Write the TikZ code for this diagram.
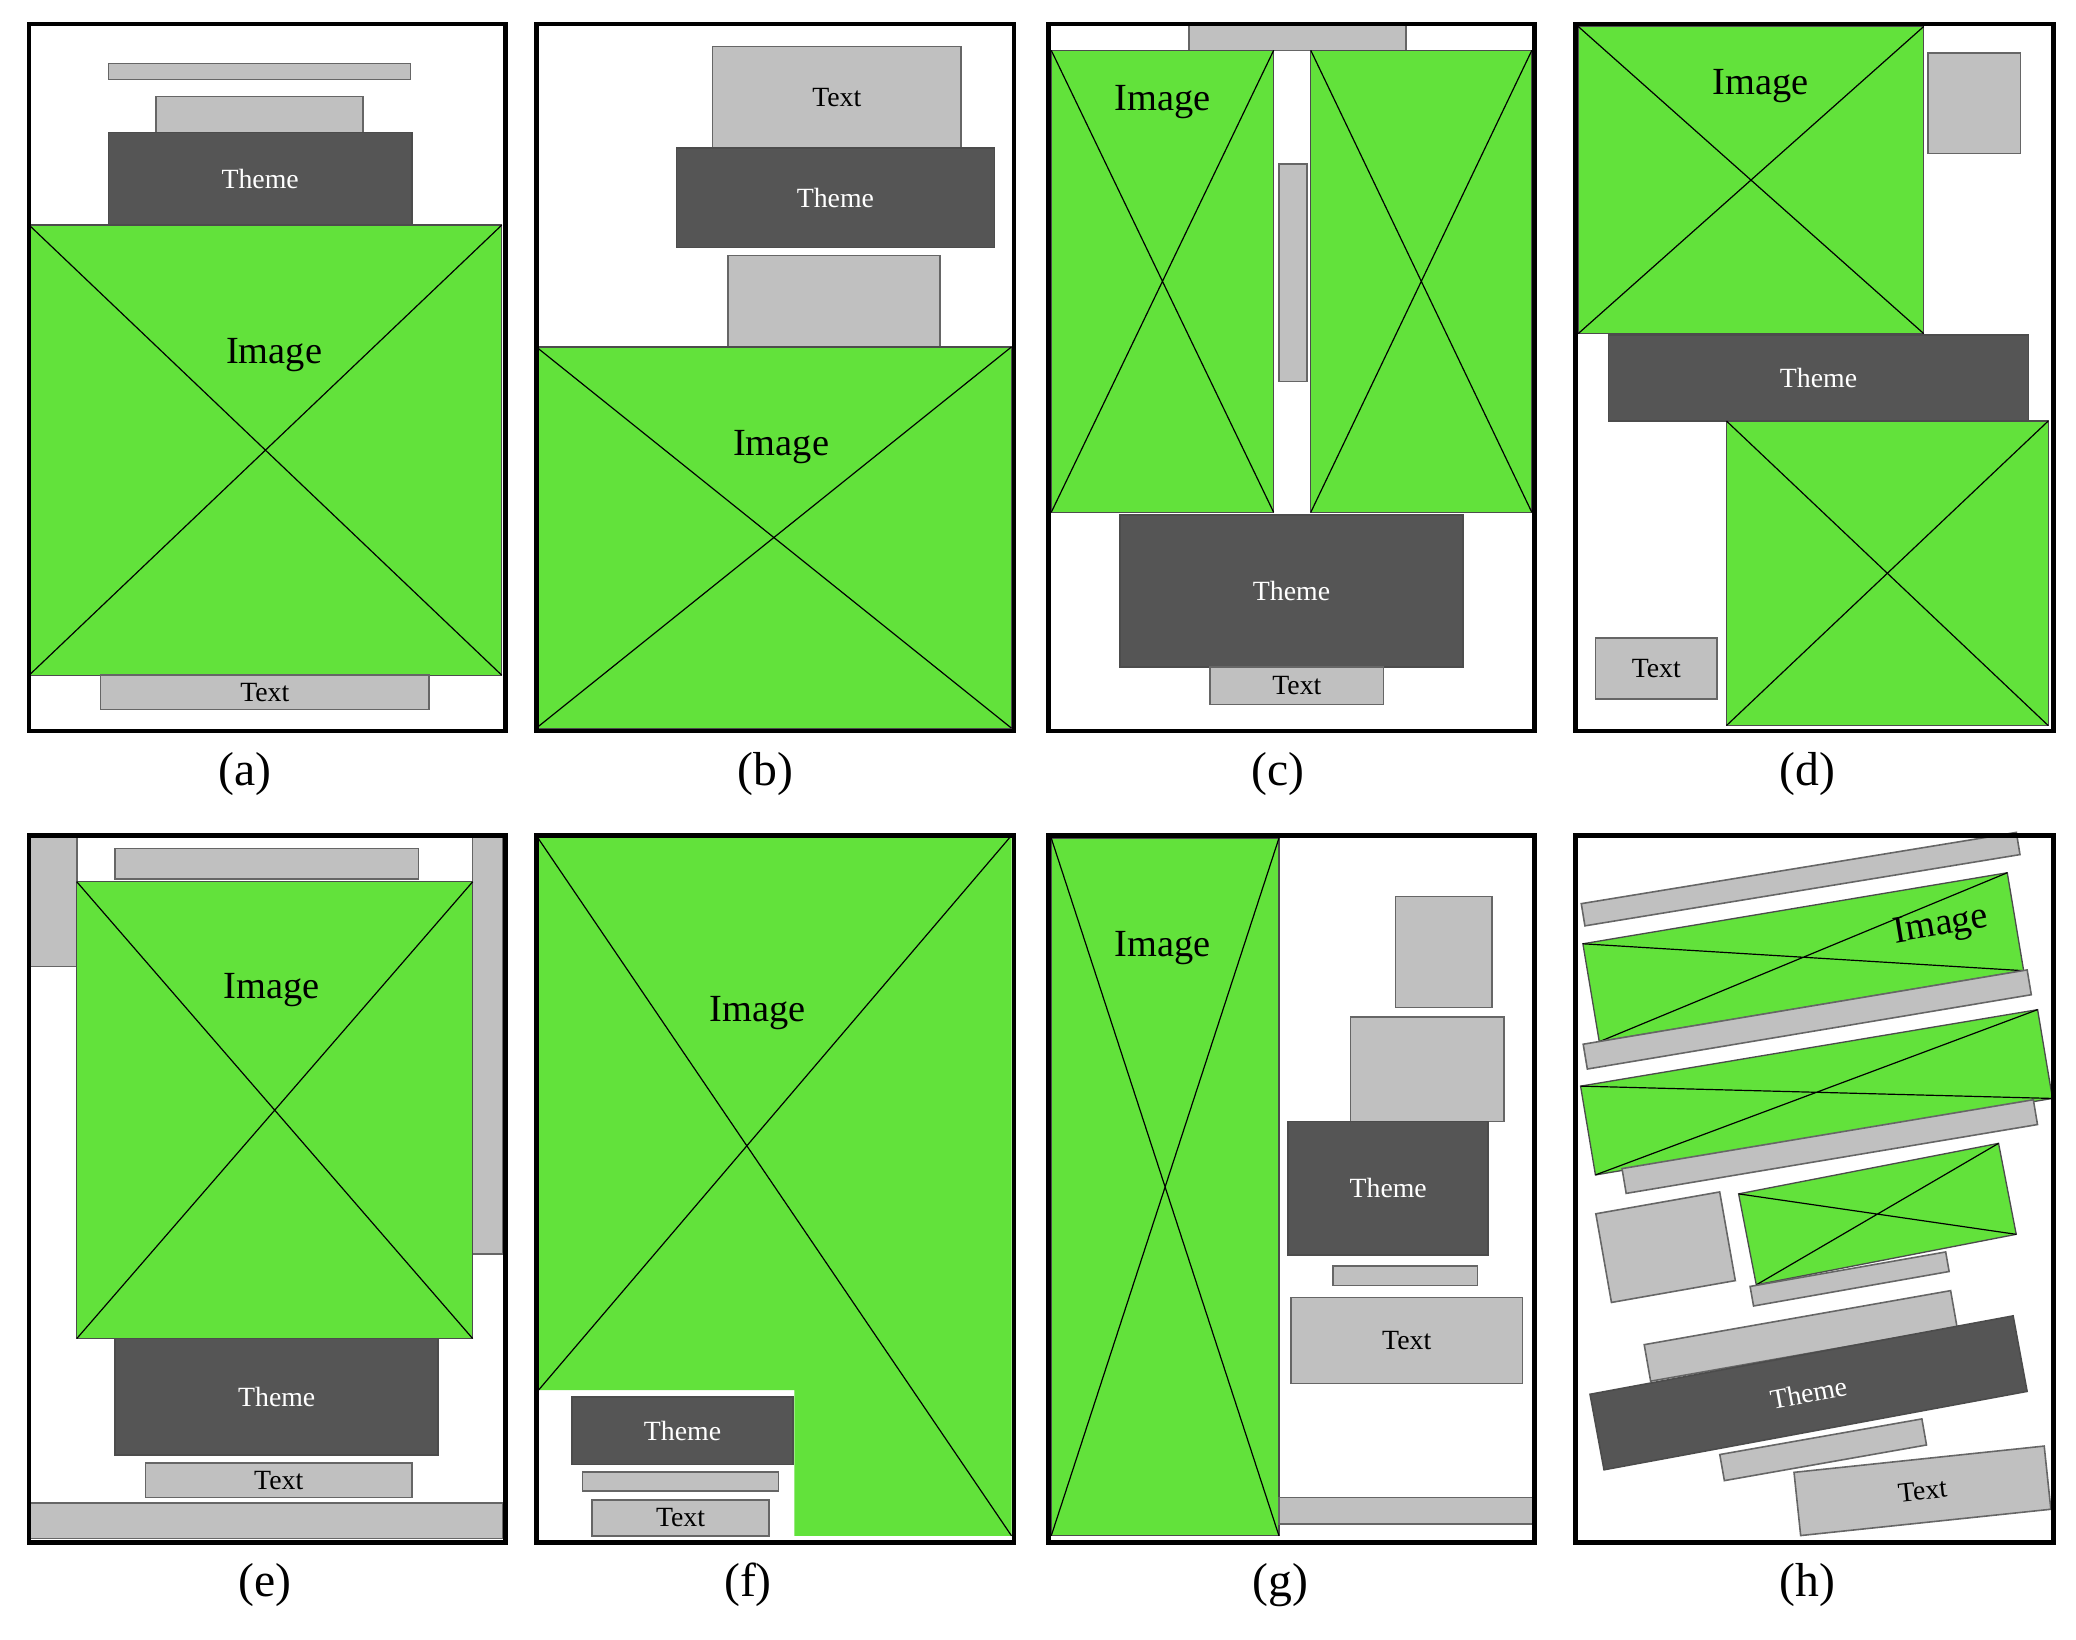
\documentclass[tikz,border=0pt]{standalone}
\usepackage{fontspec}
\setmainfont{Liberation Serif}
\begin{document}
\begin{tikzpicture}[x=1pt,y=-1pt,
 frame/.style={draw=black,line width=3.5pt},
 img/.style={fill=imgG,draw=black!70,line width=1pt,inner sep=0,outer sep=0},
 gbox/.style={fill=boxG,draw=black!60,line width=1.2pt,inner sep=0,outer sep=0,font=\fontsize{21}{21}\selectfont},
 dbox/.style={fill=boxD,draw=black!70,line width=1.2pt,inner sep=0,outer sep=0,text=white,font=\fontsize{21}{21}\selectfont},
 lab/.style={font=\fontsize{36}{36}\selectfont},
 itxt/.style={font=\fontsize{29}{29}\selectfont},
 xl/.style={draw=black,line width=0.9pt}]
\definecolor{imgG}{HTML}{62E23B}
\definecolor{boxG}{HTML}{C0C0C0}
\definecolor{boxD}{HTML}{555555}
\newcommand\rb[7]{\node[#1,minimum width={#4-#2},minimum height={#5-#3}] (#6) at ({(#2+#4)/2},{(#3+#5)/2}) {#7};}
\newcommand\cx[1]{\draw[xl] (#1.north west)--(#1.south east) (#1.north east)--(#1.south west);}
\newcommand\rr[8]{\node[#1,rotate=#6,minimum width=#4,minimum height=#5] (#7) at (#2,#3) {#8};}
\useasboundingbox (0,0) rectangle (1568,1238);
% (a)
\rb{gbox}{82}{48}{310}{60}{a1}{}
\rb{gbox}{118}{73}{274}{100}{a2}{}
\rb{dbox}{82}{100}{311}{170}{a3}{Theme}
\rb{img}{22}{170}{379}{510}{ai}{} \cx{ai}
\node[itxt] (ait) at (207,268) {Image};
\rb{gbox}{76}{510}{324}{536}{a4}{Text}
\draw[frame] (22,18) rectangle (382,552);
\node[lab] (la) at (185,585) {(a)};
% (b)
\rb{gbox}{538}{35}{726}{112}{b1}{Text}
\rb{dbox}{511}{112}{751}{187}{b2}{Theme}
\rb{gbox}{550}{193}{710}{262}{b3}{}
\rb{img}{405}{262}{764}{550}{bi}{} \cx{bi}
\node[itxt] (bit) at (590,338) {Image};
\draw[frame] (405,18) rectangle (766,552);
\node[lab] (lb) at (578,585) {(b)};
% (c)
\rb{gbox}{898}{18}{1062}{38}{c1}{}
\rb{img}{794}{38}{962}{387}{ci}{} \cx{ci}
\node[itxt] (cit) at (878,77) {Image};
\rb{img}{990}{38}{1157}{387}{cj}{} \cx{cj}
\rb{gbox}{966}{124}{987}{288}{c2}{}
\rb{dbox}{846}{389}{1105}{504}{c3}{Theme}
\rb{gbox}{914}{504}{1045}{532}{c4}{Text}
\draw[frame] (792,18) rectangle (1159,552);
\node[lab] (lc) at (965,585) {(c)};
% (d)
\rb{img}{1192}{20}{1453}{252}{di}{} \cx{di}
\node[itxt] (dit) at (1330,65) {Image};
\rb{gbox}{1456}{40}{1526}{116}{d1}{}
\rb{dbox}{1215}{253}{1532}{318}{d2}{Theme}
\rb{img}{1304}{318}{1547}{548}{dj}{} \cx{dj}
\rb{gbox}{1205}{482}{1297}{528}{d3}{Text}
\draw[frame] (1190,18) rectangle (1551,552);
\node[lab] (ld) at (1365,585) {(d)};
% (e)
\rb{gbox}{22}{631}{58}{730}{e1}{}
\rb{gbox}{87}{641}{316}{664}{e2}{}
\rb{gbox}{357}{631}{380}{947}{e3}{}
\rb{img}{58}{666}{357}{1011}{ei}{} \cx{ei}
\node[itxt] (eit) at (205,748) {Image};
\rb{dbox}{87}{1011}{331}{1099}{e4}{Theme}
\rb{gbox}{110}{1105}{311}{1131}{e5}{Text}
\rb{gbox}{22}{1135}{380}{1162}{e6}{}
\draw[frame] (22,631) rectangle (382,1165);
\node[lab] (le) at (200,1197) {(e)};
% (f)
\coordinate (f1) at (405,631); \coordinate (f2) at (764,631);
\coordinate (f3) at (764,1160); \coordinate (f4) at (405,1052);
\fill[imgG] (405,631)--(764,631)--(764,1160)--(600,1160)--(600,1050)--(405,1050)--cycle;
\draw[xl] (f1)--(f3) (f2)--(f4);
\node[itxt] (fit) at (572,765) {Image};
\rb{dbox}{432}{1055}{599}{1106}{fa}{Theme}
\rb{gbox}{440}{1112}{588}{1126}{fb}{}
\rb{gbox}{447}{1133}{581}{1160}{fc}{Text}
\draw[frame] (405,631) rectangle (766,1165);
\node[lab] (lf) at (565,1197) {(f)};
% (g)
\rb{img}{794}{633}{966}{1160}{gi}{} \cx{gi}
\node[itxt] (git) at (878,716) {Image};
\rb{gbox}{1054}{677}{1127}{761}{g1}{}
\rb{gbox}{1020}{768}{1136}{847}{g2}{}
\rb{dbox}{973}{847}{1124}{948}{g3}{Theme}
\rb{gbox}{1007}{956}{1116}{971}{g4}{}
\rb{gbox}{975}{980}{1150}{1045}{g5}{Text}
\rb{gbox}{966}{1131}{1159}{1151}{g6}{}
\draw[frame] (792,631) rectangle (1159,1165);
\node[lab] (lg) at (967,1197) {(g)};
% (h)
\rr{gbox}{1360}{664}{333}{17}{9.3}{h1}{}
\rr{img}{1362}{723}{325}{75}{9.5}{hi}{} \cx{hi}
\node[itxt,rotate=9.5] (hit) at (1466,700) {Image};
\rr{gbox}{1365}{770}{340}{19}{9.5}{h2}{}
\rr{img}{1372}{825}{350}{68}{9.5}{hj}{} \cx{hj}
\rr{gbox}{1382}{866}{315}{19}{9.5}{h3}{}
\rr{gbox}{1258}{942}{95}{68}{10}{h4}{}
\rr{img}{1418}{917}{200}{70}{11}{hk}{} \cx{hk}
\rr{gbox}{1397}{966}{150}{15}{10}{h5}{}
\rr{gbox}{1360}{1009}{235}{28}{10}{h6}{}
\rr{dbox}{1366}{1052}{325}{58}{10.5}{h7}{Theme}
\rr{gbox}{1377}{1095}{155}{20}{10}{h8}{}
\rr{gbox}{1452}{1126}{190}{48}{6}{h9}{Text}
\draw[frame] (1190,631) rectangle (1551,1165);
\node[lab] (lh) at (1365,1197) {(h)};
\end{tikzpicture}
\end{document}
